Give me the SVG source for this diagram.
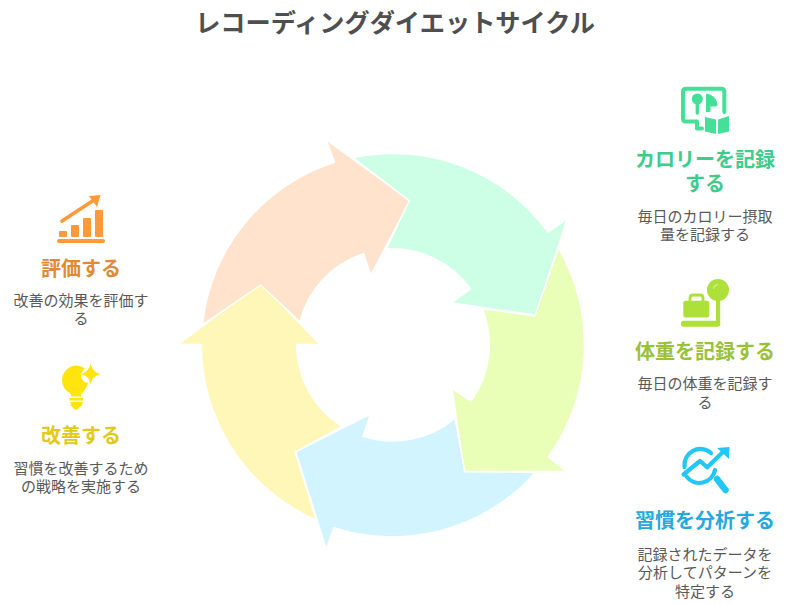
<svg xmlns="http://www.w3.org/2000/svg" width="789" height="603" viewBox="0 0 789 603">
<style>
text{font-family:"Noto Sans CJK JP","Noto Sans",sans-serif;text-anchor:middle}
.title{font-size:25.200px;font-weight:700;fill:#4f4f4f}
.h{font-size:20px;font-weight:700}
.d{font-size:15px;fill:#595959}
.seam{fill:none;stroke:#fff;stroke-width:1.300px}
</style>
<rect width="789" height="603" fill="#fff"/>
<text class="title" x="395" y="32">レコーディングダイエットサイクル</text>
<g id="connectors">
<path id="arrow-calorie" fill="#CCFFE6" d="M354,158.300A191,191 0 0 1 548,233.300L565.700,220.700L535,314.300L453.300,302.300L471.700,289A97,97 0 0 0 386.700,248.300L409.300,200.700Z"/>
<path id="arrow-weight" fill="#E9FFB8" d="M558.300,249.300A191,191 0 0 1 547,457.300L564.700,470.700L465,470.700L453,390L471,402.300A97,97 0 0 0 483.300,309L535,316.700Z"/>
<path id="arrow-analyze" fill="#D1F4FF" d="M534.300,472.700A191,191 0 0 1 333.300,526.700L326.300,546.700L296.700,452L369,415.700L362,436.700A97,97 0 0 0 455,419.300L464,472.300Z"/>
<path id="arrow-improve" fill="#FFF7B8" d="M315.700,519A191,191 0 0 1 202,343.700L180,343.700L260.700,284.300L318.300,343.700L296,343.700A97,97 0 0 0 341,426.700L294.300,451.700Z"/>
<path id="arrow-evaluate" fill="#FFE3CC" d="M203.300,324A191,191 0 0 1 335.300,162.700L327.700,141.700L409,200.700L371,273.300L364,252.700A97,97 0 0 0 299.300,321L260.700,285Z"/>
<path class="seam" d="M354,158.300L409.300,200.700L386.700,248.300M558.300,249.300L535,315.300L483.300,309M534.300,472.500L465,471.500L455,419.300M341,426.700L295.300,452L315.700,519M203.300,324L260.700,285L299.300,321"/>
</g>
<g id="node-calorie">
<g fill="none" stroke="#45E097" stroke-width="4" stroke-linejoin="round" stroke-linecap="round">
<path d="M683,91.500Q683,88.700 686,88.700H721.500Q724.300,88.700 724.300,91.500V112M683,91.500V118.500Q683,121.500 686,121.500H697V128.500H702"/>
<path d="M697.300,100V113" stroke-width="3.400"/>
</g>
<g fill="#45E097">
<circle cx="697.300" cy="99" r="5.500"/>
<path d="M707,93.500Q716,95.500 717.500,104Q717.500,106.500 715,106.500H710.500V112H706V94.500Q706,93.500 707,93.500Z"/>
<path d="M705,117L716,119.500V134L705,131.500Z"/>
<path d="M718,119.500L729,116V131.500L718,134Z"/>
</g>
<text class="h" x="705" y="167" fill="#3DCC8A">カロリーを記録</text>
<text class="h" x="705" y="191" fill="#3DCC8A">する</text>
<text class="d" x="705" y="222">毎日のカロリー摂取</text>
<text class="d" x="705" y="240">量を記録する</text>
</g>
<g id="node-weight">
<g fill="#ADE038">
<circle cx="718" cy="290" r="11"/>
<rect x="716" y="298" width="4.200" height="28"/>
<rect x="681" y="320.700" width="39" height="6" rx="2.500"/>
<rect x="683.300" y="300.700" width="26" height="16.700" rx="2.500"/>
</g>
<path d="M690,301V298Q690,295 693,295H700Q703,295 703,298V301" fill="none" stroke="#ADE038" stroke-width="2.800"/>
<path d="M713.500,289A5,5 0 0 1 718,284.500" fill="none" stroke="#D9F294" stroke-width="1.200"/>
<text class="h" x="705" y="358.500" fill="#99C23A">体重を記録する</text>
<text class="d" x="705" y="389">毎日の体重を記録す</text>
<text class="d" x="705" y="408">る</text>
</g>
<g id="node-analyze">
<g fill="none" stroke="#22C7F5" stroke-linecap="round" stroke-linejoin="round">
<path d="M684.500,467A16,16 0 0 1 711,453M686.500,476.500A16,16 0 0 0 715,470" stroke-width="4.200"/>
<path d="M683.500,474.500L700,461L707.300,467.300L725,450" stroke-width="4.200"/>
<path d="M717,479L725.500,490" stroke-width="6.500"/>
</g>
<path d="M729.500,447L729,459L717,448Z" fill="#22C7F5"/>
<text class="h" x="705" y="527.500" fill="#26A8DE">習慣を分析する</text>
<text class="d" x="705" y="560">記録されたデータを</text>
<text class="d" x="705" y="578">分析してパターンを</text>
<text class="d" x="705" y="597">特定する</text>
</g>
<g id="node-evaluate">
<g fill="#FF9A36">
<rect x="59" y="231" width="8" height="6" rx="1"/>
<rect x="71" y="225" width="8" height="12" rx="1"/>
<rect x="83" y="218" width="8" height="19" rx="1"/>
<rect x="95" y="210" width="8" height="27" rx="1"/>
<rect x="57" y="239" width="48" height="4" rx="2"/>
<path d="M100.500,195L97,207L89,196Z"/>
</g>
<path d="M62,221L94,200" fill="none" stroke="#FF9A36" stroke-width="3.600" stroke-linecap="round"/>
<text class="h" x="81" y="275.500" fill="#E08A36">評価する</text>
<text class="d" x="81" y="306">改善の効果を評価す</text>
<text class="d" x="81" y="324">る</text>
</g>
<g id="node-improve">
<g fill="#FFE40D">
<path d="M76,365.500A15.500,15.500 0 0 1 85,368.500Q81,372 81,376Q82,382 88,383Q86,390 81,394V396.500H71V394Q62,389 62,380A15,15 0 0 1 76,365.500Z"/>
<path d="M69.500,398H83V400.500H69.500Z"/>
<path d="M70.500,402H82.500V404Q82.500,406 79.500,407Q78,410 76,410Q74,410 72.500,407Q70.500,406 70.500,404Z"/>
<path d="M90.700,363.500Q92,372 100.500,374Q92,376 90.700,384Q89,376 81,374Q89,372 90.700,363.500Z"/>
</g>
<text class="h" x="81" y="443" fill="#E3C918">改善する</text>
<text class="d" x="81" y="474">習慣を改善するため</text>
<text class="d" x="81" y="492">の戦略を実施する</text>
</g>
</svg>
